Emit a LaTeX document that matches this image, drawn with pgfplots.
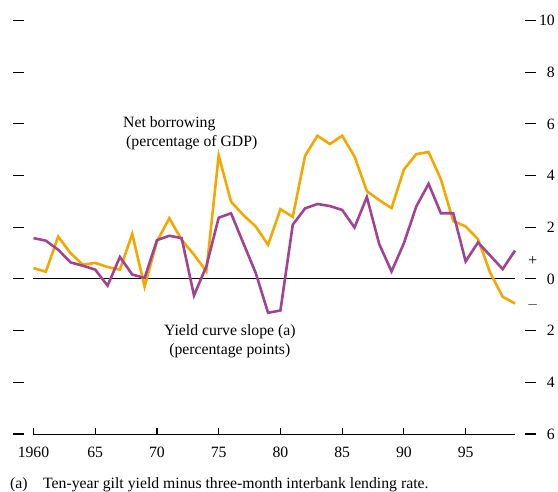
\documentclass[border=0pt]{standalone}
\usepackage{fontspec}
\setmainfont{Liberation Serif}
\usepackage{pgfplots}
\pgfplotsset{compat=1.18}
\definecolor{nb}{RGB}{243,168,0}
\definecolor{yc}{RGB}{160,68,145}
\pgfplotstableread{
year val
1960 0.42
1961 0.28
1962 1.64
1963 1.00
1964 0.55
1965 0.62
1966 0.46
1967 0.36
1968 1.74
1969 -0.30
1970 1.45
1971 2.35
1972 1.51
1973 0.94
1974 0.29
1975 4.78
1976 2.99
1977 2.47
1978 2.03
1979 1.32
1980 2.70
1981 2.40
1982 4.77
1983 5.54
1984 5.22
1985 5.54
1986 4.74
1987 3.40
1988 3.05
1989 2.74
1990 4.23
1991 4.83
1992 4.91
1993 3.85
1994 2.24
1995 2.03
1996 1.54
1997 0.23
1998 -0.69
1999 -0.95
}\netborrowing
\pgfplotstableread{
year val
1960 1.58
1961 1.48
1962 1.13
1963 0.64
1964 0.51
1965 0.36
1966 -0.26
1967 0.85
1968 0.17
1969 0.04
1970 1.50
1971 1.67
1972 1.58
1973 -0.64
1974 0.49
1975 2.37
1976 2.54
1977 1.38
1978 0.23
1979 -1.31
1980 -1.22
1981 2.10
1982 2.73
1983 2.90
1984 2.82
1985 2.67
1986 1.99
1987 3.17
1988 1.35
1989 0.29
1990 1.38
1991 2.80
1992 3.68
1993 2.54
1994 2.54
1995 0.68
1996 1.41
1997 0.90
1998 0.38
1999 1.10
}\yieldcurve
\begin{document}
\fontsize{15.8}{19}\selectfont
\begin{tikzpicture}
\begin{axis}[
  at={(13bp,58bp)}, anchor=south west,
  scale only axis, width=523bp, height=413.5bp,
  xmin=1958.34, xmax=2000.7, ymin=-6, ymax=10,
  separate axis lines, axis line style={draw=none},
  xtick={1960,1965,...,1995}, xticklabels={1960,65,70,75,80,85,90,95},
  ytick={-6,-4,...,10}, yticklabels={6,4,2,0,2,4,6,8,10},
  tick align=inside, xtick pos=bottom, ytick pos=both, yticklabel pos=right,
  major tick length=11bp,
  tick style={black, line width=1.1bp},
  xtick style={/pgfplots/major tick length=6bp},
  yticklabel style={anchor=east, inner sep=0pt, xshift=19bp},
  xticklabel style={anchor=north, inner sep=0pt, yshift=-13bp},
  /pgf/number format/assume math mode=true,
  clip=false,
]
\addplot[black, line width=0.9bp] coordinates {(1960,-6) (1999,-6)};
\addplot[black, line width=0.9bp] coordinates {(1960,0) (1999,0)};
\addplot[nb, line width=2.6bp] table[x=year, y=val] {\netborrowing};
\addplot[yc, line width=2.6bp] table[x=year, y=val] {\yieldcurve};
\node[anchor=west, align=left, inner sep=0pt] at (axis cs:1967.25,5.65)
  {Net borrowing\\\hspace*{3bp}(percentage of GDP)};
\node[align=center, inner sep=0pt] at (axis cs:1975.9,-2.42)
  {Yield curve slope (a)\\(percentage points)};
\node[inner sep=0pt] at (axis cs:2000.44,0.69) {+};
\node[inner sep=0pt] at (axis cs:2000.44,-1.01) {$-$};
\end{axis}
\node[anchor=base west, inner sep=0pt] at (10bp,4bp) {(a)};
\node[anchor=base west, inner sep=0pt] at (43bp,4bp) {Ten-year gilt yield minus three-month interbank lending rate.};
\pgfresetboundingbox
\path[use as bounding box] (0,0) rectangle (558bp,492bp);
\end{tikzpicture}
\end{document}
